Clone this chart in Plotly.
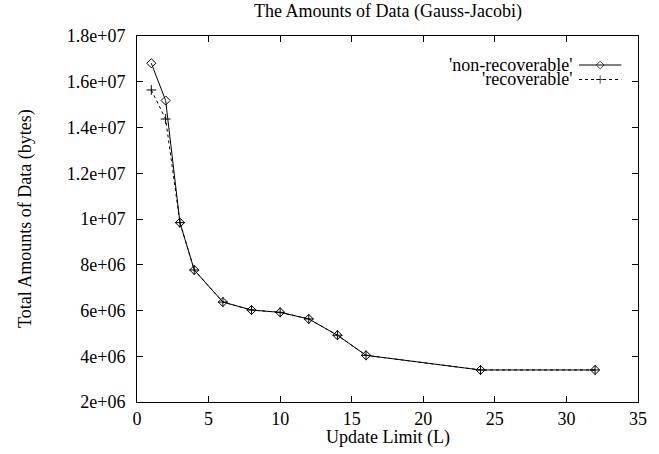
import plotly.graph_objects as go

# ---- data ----
update_limit = [1, 2, 3, 4, 6, 8, 10, 12, 14, 16, 24, 32]
non_recoverable = [1.681e7, 1.518e7, 9.84e6, 7.77e6, 6.37e6, 6.02e6, 5.92e6,
                   5.63e6, 4.92e6, 4.04e6, 3.40e6, 3.40e6]
recoverable = [1.564e7, 1.437e7, 9.84e6, 7.77e6, 6.37e6, 6.02e6, 5.92e6,
               5.63e6, 4.92e6, 4.04e6, 3.40e6, 3.40e6]
series_names = ["'non-recoverable'", "'recoverable'"]
y_tickvals = [2e6, 4e6, 6e6, 8e6, 1e7, 1.2e7, 1.4e7, 1.6e7, 1.8e7]
y_ticktext = ["2e+06", "4e+06", "6e+06", "8e+06", "1e+07", "1.2e+07",
              "1.4e+07", "1.6e+07", "1.8e+07"]
x_tickvals = [0, 5, 10, 15, 20, 25, 30, 35]

FONT = "Liberation Serif"
FS = 18
W, H = 659, 454
L, R, T, B = 137, 12, 36, 52
PW, PH = W - L - R, H - T - B


def px(x):
    return (x - L) / PW


def py(y):
    return (H - B - y) / PH


fig = go.Figure()
fig.add_trace(go.Scatter(
    x=update_limit, y=recoverable, mode="lines+markers",
    line=dict(color="black", width=1, dash="3px,3px"),
    marker=dict(symbol="cross-thin", size=7, line=dict(color="black", width=1)),
    showlegend=False, cliponaxis=False))
fig.add_trace(go.Scatter(
    x=update_limit, y=non_recoverable, mode="lines+markers",
    line=dict(color="black", width=1),
    marker=dict(symbol="diamond-open", size=7, color="black", line=dict(width=1)),
    showlegend=False, cliponaxis=False))

# custom gnuplot-style legend (text left, sample right)
leg_rows = [65, 79.5]
x0, xm, x1 = px(587), px(608.5), px(630)
fig.add_trace(go.Scatter(
    x=[x0, xm, x1], y=[py(leg_rows[0])] * 3, xaxis="x2", yaxis="y2",
    mode="lines+markers", line=dict(color="black", width=1),
    marker=dict(symbol="diamond-open", size=[0, 6, 0], color="black", line=dict(width=1)),
    showlegend=False, hoverinfo="skip"))
fig.add_trace(go.Scatter(
    x=[x0, xm, x1], y=[py(leg_rows[1])] * 3, xaxis="x2", yaxis="y2",
    mode="lines+markers", line=dict(color="black", width=1, dash="3px,3px"),
    marker=dict(symbol="cross-thin", size=[0, 6, 0], line=dict(color="black", width=1)),
    showlegend=False, hoverinfo="skip"))

annotations = []
for name, yy in zip(series_names, leg_rows):
    annotations.append(dict(text=name, x=px(582), y=py(yy), xref="paper", yref="paper",
                            xanchor="right", yanchor="middle", showarrow=False,
                            font=dict(family=FONT, size=FS, color="black")))
annotations.append(dict(text="Total Amounts of Data (bytes)", x=px(23), y=0.5,
                        xref="paper", yref="paper", textangle=-90,
                        xanchor="center", yanchor="middle", showarrow=False,
                        font=dict(family=FONT, size=FS, color="black")))
annotations.append(dict(text="Update Limit (L)", x=0.5, y=py(437),
                        xref="paper", yref="paper",
                        xanchor="center", yanchor="middle", showarrow=False,
                        font=dict(family=FONT, size=FS, color="black")))
annotations.append(dict(text="The Amounts of Data (Gauss-Jacobi)", x=0.5, y=py(12),
                        xref="paper", yref="paper",
                        xanchor="center", yanchor="middle", showarrow=False,
                        font=dict(family=FONT, size=FS, color="black")))

axis_common = dict(showgrid=False, zeroline=False, showline=True, linecolor="black",
                   linewidth=1, mirror="ticks", ticks="inside", ticklen=6,
                   tickcolor="black", tickwidth=1,
                   tickfont=dict(family=FONT, size=FS, color="black"))

fig.update_layout(
    width=W, height=H,
    margin=dict(l=L, r=R, t=T, b=B, pad=0),
    paper_bgcolor="white", plot_bgcolor="white",
    xaxis=dict(range=[0, 35], tickmode="array", tickvals=x_tickvals, **axis_common),
    yaxis=dict(range=[2e6, 1.8e7], tickmode="array", tickvals=y_tickvals,
               ticktext=y_ticktext, ticklabelstandoff=7, **axis_common),
    xaxis2=dict(overlaying="x", range=[0, 1], visible=False),
    yaxis2=dict(overlaying="y", range=[0, 1], visible=False),
    annotations=annotations,
    showlegend=False,
)

fig.write_html("out.html")
